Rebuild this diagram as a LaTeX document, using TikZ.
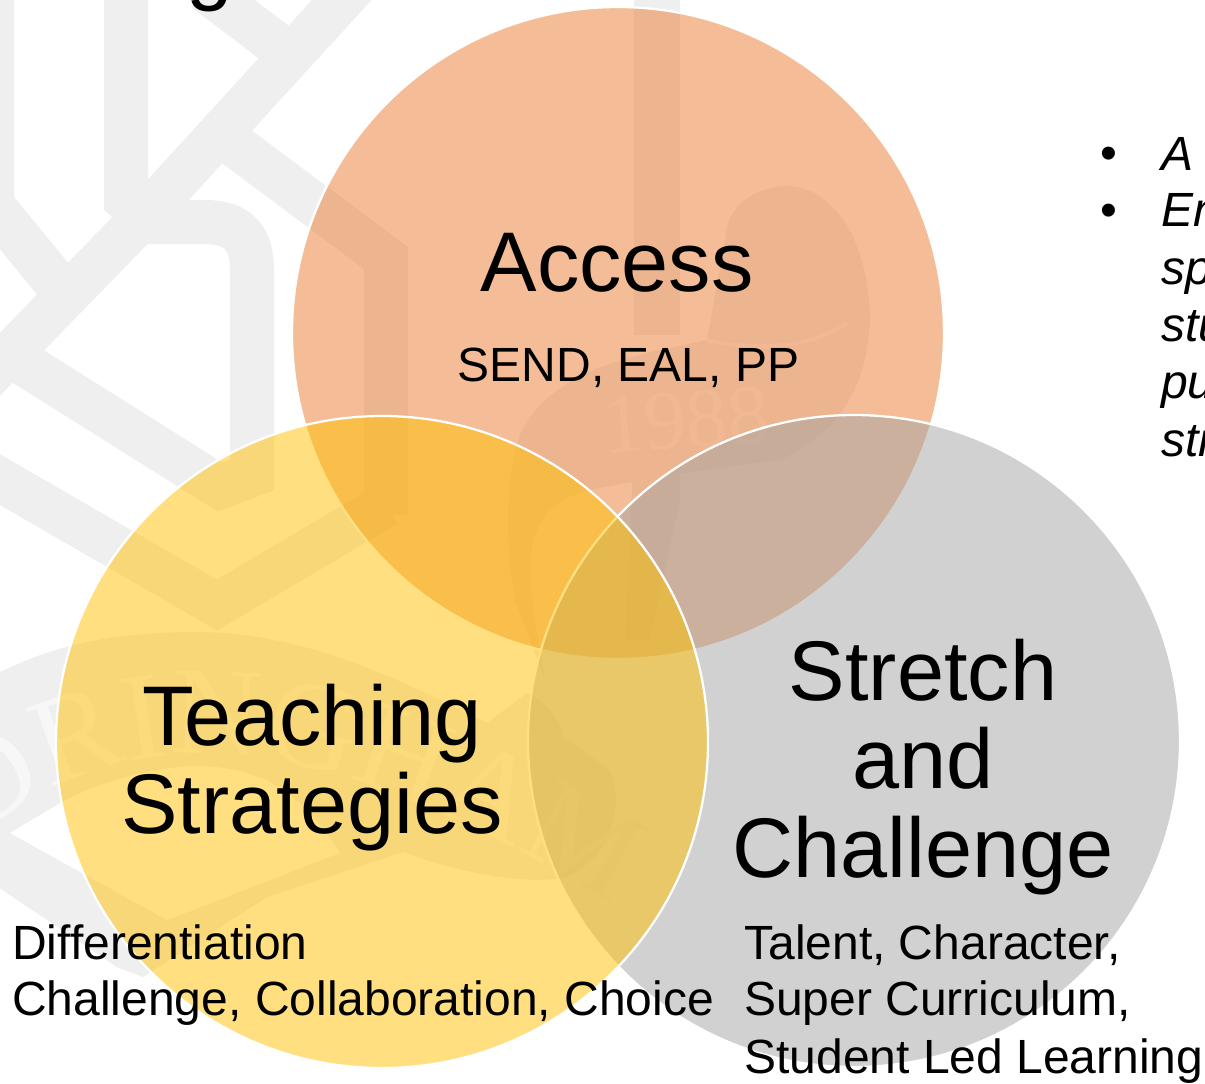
\documentclass[tikz,border=0pt]{standalone}
\usepackage{fontspec}
\setmainfont{Liberation Sans}
\newfontfamily\wmfont{Liberation Serif}
\usetikzlibrary{decorations.text}
\definecolor{wm}{HTML}{EFEFEF}
\definecolor{wmlight}{HTML}{F7F7F7}
\definecolor{orangec}{HTML}{ED7D31}
\definecolor{grayc}{HTML}{A5A5A5}
\definecolor{yellowc}{HTML}{FFC000}
\tikzset{
  band/.style={draw=wm,line width=33pt,line cap=butt,line join=miter},
  venn/.style={draw=white,line width=1.7pt,fill opacity=.5,draw opacity=1},
  bigtext/.style={font=\fontsize{63.5}{66}\selectfont,anchor=base,inner sep=0pt,text=black},
  smalltext/.style={font=\fontsize{36}{43}\selectfont,anchor=base west,inner sep=0pt,text=black},
  sidetext/.style={font=\fontsize{36}{43}\selectfont\itshape,anchor=base west,inner sep=0pt,text=black},
}
\begin{document}
\begin{tikzpicture}[x=0.75pt,y=-0.75pt]
\useasboundingbox (0,0) rectangle (1205,1083);
\clip (0,0) rectangle (1205,1083);
\fill[white] (0,0) rectangle (1205,1083);
% watermark lattice
\draw[band] (-8,-10) -- (-8,205) -- (62,290);
\draw[band] (126,-10) -- (126,200) -- (140,213);
\draw[band] (205,-10) -- (275,43);
\draw[band] (225,138) -- (386,258) -- (386,515);
\draw[band] (135,222) -- (205,222) .. controls (240,222) and (252,240) .. (252,270) -- (252,475) -- (220,487) -- (10,355);
\draw[band] (-15,471) -- (217,605) -- (386,505);
\draw[band] (360,-20) -- (147,213) -- (-30,395);
\draw[draw=wm,line width=35pt] (657,-10) -- (657,335);
\fill[wm] (633,465) -- (680,465) -- (680,500) -- (650,640) -- (625,640) -- cycle;
% crest
\fill[wm] (727,227) .. controls (735,195) and (770,185) .. (790,186)
  .. controls (835,190) and (868,240) .. (870,317)
  .. controls (868,380) and (845,430) .. (780,460)
  .. controls (700,470) and (640,480) .. (590,490)
  .. controls (545,500) and (530,530) .. (530,570)
  .. controls (530,610) and (540,640) .. (545,680)
  -- (515,600) .. controls (505,540) and (505,480) .. (520,435)
  .. controls (540,390) and (590,365) .. (660,350)
  -- (707,340) -- (725,240) -- cycle;
\draw[wmlight,line width=3pt] (707,340) .. controls (750,350) and (810,350) .. (847,323);
\node[text=wmlight,font=\wmfont\fontsize{63}{66}\selectfont,rotate=4,inner sep=0pt] (year) at (686,420) {1988};
% watermark ribbon
\fill[wm] (-5,675) .. controls (60,640) and (130,632) .. (200,632)
  .. controls (310,634) and (400,680) .. (487,723) -- (527,693)
  .. controls (550,705) and (560,720) .. (563,737) -- (610,770)
  .. controls (625,810) and (610,860) .. (563,878)
  .. controls (520,885) and (450,870) .. (403,852)
  -- (267,897) -- (143,977) -- (117,967) -- (-5,885) -- cycle;
\fill[white] (10,833) -- (57,805) .. controls (100,780) and (160,766) .. (200,766)
  .. controls (260,768) and (300,790) .. (340,853) -- (167,920) -- cycle;
\path[decorate,decoration={text along path,text align=center,
  text={|\wmfont\fontsize{94}{96}\selectfont\color{wmlight}|DRINGHAM}}]
  (-50,860) .. controls (110,715) and (290,705) .. (640,920);
% fragment of cut-off title
\node[font=\fontsize{63}{66}\selectfont,anchor=base,inner sep=0pt] (title) at (210,-6) {g};
% venn
\path[fill=orangec,venn] (618,333) circle[radius=326];
\path[fill=grayc,venn] (854,741) circle[radius=326];
\path[fill=yellowc,venn] (382,742) circle[radius=326];
% labels
\node[bigtext] (access) at (617,291) {Access};
\node[smalltext,anchor=base] (send) at (628.5,381) {SEND, EAL, PP};
\node[bigtext] (teach) at (312,745) {Teaching};
\node[bigtext] (strat) at (312,833) {Strategies};
\node[bigtext] (stretch) at (923,700) {Stretch};
\node[bigtext] (and) at (923,788) {and};
\node[bigtext] (chall) at (923,877) {Challenge};
\node[smalltext] (diff) at (12,959) {Differentiation};
\node[smalltext] (ccc) at (12,1015) {Challenge, Collaboration, Choice};
\node[smalltext] (tal) at (744,959) {Talent, Character,};
\node[smalltext] (sup) at (744,1015) {Super Curriculum,};
\node[smalltext] (stu) at (744,1073) {Student Led Learning};
% side list
\node[sidetext,font=\fontsize{36}{43}\selectfont] (b1) at (1100,169) {•};
\node[sidetext,font=\fontsize{36}{43}\selectfont] (b2) at (1100,226) {•};
\node[sidetext] (s1) at (1161,170) {A};
\node[sidetext] (s2) at (1161,226) {En};
\node[sidetext] (s3) at (1161,284) {spe};
\node[sidetext] (s4) at (1161,341) {stu};
\node[sidetext] (s5) at (1161,398) {pup};
\node[sidetext] (s6) at (1161,456) {str};
\end{tikzpicture}
\end{document}
